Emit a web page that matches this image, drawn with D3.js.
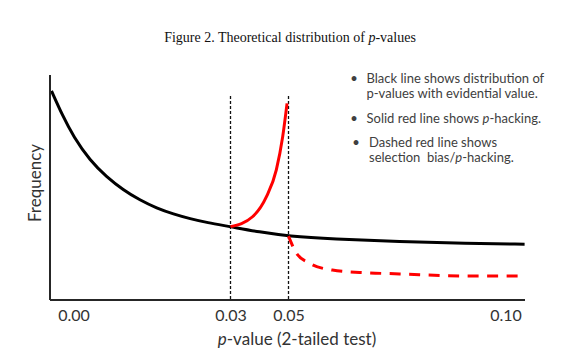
<!DOCTYPE html>
<html>
<head>
<meta charset="utf-8">
<script src="https://cdn.jsdelivr.net/npm/d3@7"></script>
<style>
body { margin: 0; background: #fff; }
svg { display: block; }
.tick text { font-family: Lato, "Open Sans", sans-serif; font-size: 16px; fill: #333; }
</style>
</head>
<body>
<div id="chart"></div>
<script>
var w = 567, h = 363;

// Tick labels on the p-value axis (schematic, not evenly spaced)
var tickValues = [0, 0.03, 0.05, 0.10];
var tickLabels = ["0.00", "0.03", "0.05", "0.10"];

// Black line: distribution with evidential value  [p, relative frequency]
var blackP    = [-0.0042, -0.0021, 0.0, 0.0032, 0.0063, 0.0095, 0.0127, 0.0159, 0.0191, 0.0223, 0.0255, 0.030, 0.040, 0.050, 0.0602, 0.0756, 0.0910, 0.1044];
var blackFreq = [92.9, 82.0, 72.6, 61.8, 54.8, 48.9, 44.4, 40.8, 38.2, 36.1, 34.4, 32.6, 30.2, 28.4, 27.1, 25.9, 25.2, 24.8];

// Solid red line: p-hacking
var redP    = [0.030, 0.0376, 0.0424, 0.0458, 0.0480, 0.0495];
var redFreq = [32.6, 37.0, 45.9, 57.8, 72.6, 87.4];

// Dashed red line: selection bias / p-hacking
var dashP    = [0.050, 0.0518, 0.0548, 0.0601, 0.0680, 0.0756, 0.0910, 0.1044];
var dashFreq = [28.4, 20.9, 16.4, 13.3, 12.1, 11.6, 10.7, 10.7];

// Cut-offs marked with vertical dashed lines
var cutoffs = [0.03, 0.05];
var cutoffTop = 90.7;

var legendLines = [
	["Black line shows distribution of", "p-values with evidential value."],
	["Solid red line shows ", "p", "-hacking."],
	["Dashed red line shows", "selection  bias/", "p", "-hacking."]
];

var svg = d3.select("#chart").append("svg")
	.attr("width", w)
	.attr("height", h);

// Scales
var x = d3.scaleLinear()
	.domain(tickValues)
	.range([73.5, 230.5, 288.5, 505.5]);

var y = d3.scaleLinear()
	.domain([0, 100])
	.range([300, 75]);

var x0 = 50, x1 = 525;

// Title
var title = svg.append("text")
	.attr("x", 290)
	.attr("y", 42)
	.attr("text-anchor", "middle")
	.style("font-family", "'Liberation Serif', 'Times New Roman', serif")
	.style("font-size", "14px")
	.style("fill", "#111");
title.append("tspan").text("Figure 2. Theoretical distribution of ");
title.append("tspan").style("font-style", "italic").text("p");
title.append("tspan").text("-values");

// Vertical dashed cut-off lines
svg.append("g").selectAll("line")
	.data(cutoffs)
	.enter()
	.append("line")
		.attr("x1", function(d) { return x(d); })
		.attr("x2", function(d) { return x(d); })
		.attr("y1", y(cutoffTop))
		.attr("y2", y(0))
		.attr("stroke", "#111")
		.attr("stroke-width", 1.3)
		.attr("stroke-dasharray", "3,2");

// Curves
var smooth = d3.line()
	.x(function(d) { return x(d[0]); })
	.y(function(d) { return y(d[1]); })
	.curve(d3.curveBasis);

var mono = d3.line()
	.x(function(d) { return x(d[0]); })
	.y(function(d) { return y(d[1]); })
	.curve(d3.curveMonotoneX);

function pairs(ps, fs) {
	return ps.map(function(p, i) { return [p, fs[i]]; });
}

svg.append("path")
	.datum(pairs(blackP, blackFreq))
	.attr("d", smooth)
	.attr("fill", "none")
	.attr("stroke", "#000")
	.attr("stroke-width", 3);

svg.append("path")
	.datum(pairs(redP, redFreq))
	.attr("d", mono)
	.attr("fill", "none")
	.attr("stroke", "#ff0000")
	.attr("stroke-width", 3);

svg.append("path")
	.datum(pairs(dashP, dashFreq))
	.attr("d", mono)
	.attr("fill", "none")
	.attr("stroke", "#ff0000")
	.attr("stroke-width", 3)
	.attr("stroke-dasharray", "11,8.5");

// Axes frame
svg.append("line")
	.attr("x1", x0).attr("y1", y(0))
	.attr("x2", x1).attr("y2", y(0))
	.attr("stroke", "#262626")
	.attr("stroke-width", 2);

svg.append("line")
	.attr("x1", x0).attr("y1", y(100))
	.attr("x2", x0).attr("y2", y(0))
	.attr("stroke", "#262626")
	.attr("stroke-width", 2);

// Tick labels
var xAxis = d3.axisBottom(x)
	.tickValues(tickValues)
	.tickFormat(function(d, i) { return tickLabels[i]; })
	.tickSize(0)
	.tickPadding(10);

var gx = svg.append("g")
	.attr("transform", "translate(0," + y(0) + ")")
	.call(xAxis);
gx.select(".domain").remove();

// Axis titles
var xt = svg.append("text")
	.attr("x", 297)
	.attr("y", 345)
	.attr("text-anchor", "middle")
	.style("font-family", "Lato, 'Open Sans', sans-serif")
	.style("font-size", "17px")
	.style("fill", "#333");
xt.append("tspan").style("font-style", "italic").text("p");
xt.append("tspan").text("-value (2-tailed test)");

svg.append("text")
	.attr("transform", "translate(41,183) rotate(-90)")
	.attr("text-anchor", "middle")
	.style("font-family", "Lato, 'Open Sans', sans-serif")
	.style("font-size", "17px")
	.style("fill", "#333")
	.text("Frequency");

// Legend notes
var notes = svg.append("g")
	.style("font-family", "Lato, 'Open Sans', sans-serif")
	.style("font-size", "13px")
	.style("fill", "#404040");

// bullet 1
notes.append("text").attr("x", 354).attr("y", 82.5).attr("text-anchor", "middle").text("\u2022");
notes.append("text").attr("x", 366.5).attr("y", 82.5).text(legendLines[0][0]);
notes.append("text").attr("x", 366.5).attr("y", 97.5).text(legendLines[0][1]);

// bullet 2
notes.append("text").attr("x", 354).attr("y", 123).attr("text-anchor", "middle").text("\u2022");
var n2 = notes.append("text").attr("x", 366.5).attr("y", 123);
n2.append("tspan").text(legendLines[1][0]);
n2.append("tspan").style("font-style", "italic").text(legendLines[1][1]);
n2.append("tspan").text(legendLines[1][2]);

// bullet 3
notes.append("text").attr("x", 356).attr("y", 147).attr("text-anchor", "middle").text("\u2022");
notes.append("text").attr("x", 369).attr("y", 147).text(legendLines[2][0]);
var n3 = notes.append("text").attr("x", 369).attr("y", 162).attr("xml:space", "preserve");
n3.append("tspan").text(legendLines[2][1]);
n3.append("tspan").style("font-style", "italic").text(legendLines[2][2]);
n3.append("tspan").text(legendLines[2][3]);
</script>
</body>
</html>
